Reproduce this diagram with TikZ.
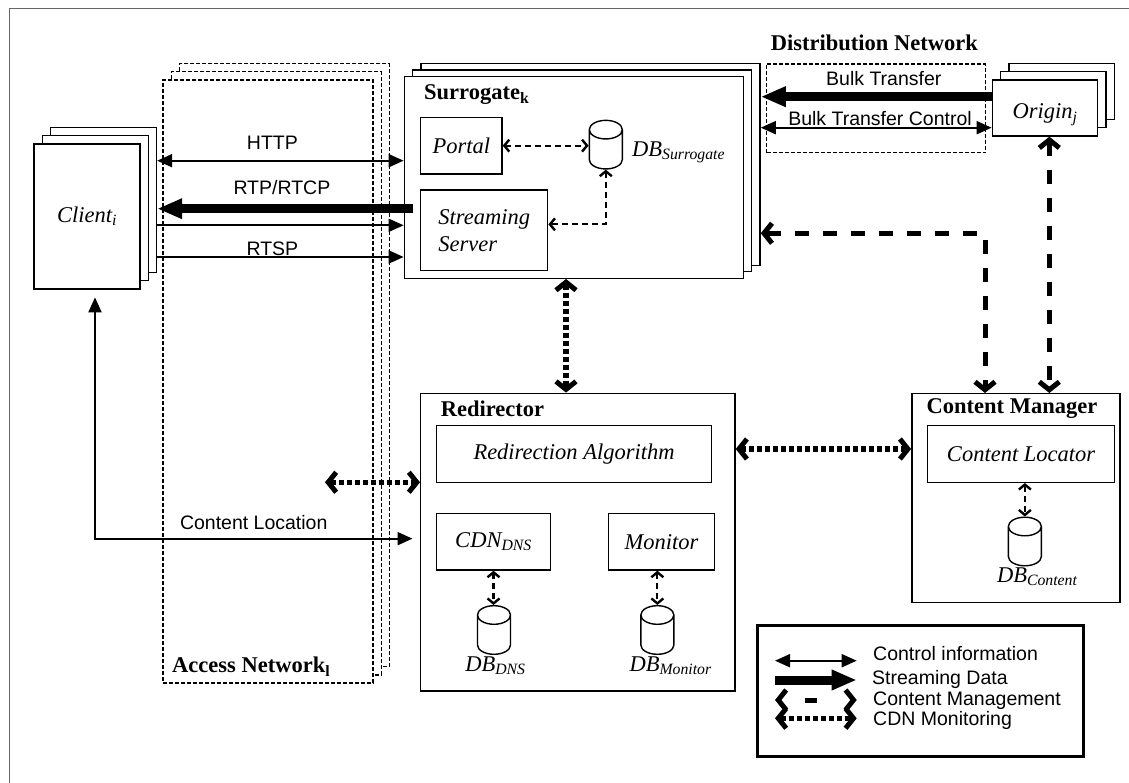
\documentclass[tikz,border=0pt]{standalone}
\usepackage{fontspec}
\setmainfont{Liberation Serif}
\setsansfont{Liberation Sans}
\usetikzlibrary{shapes.geometric, arrows.meta, calc, positioning}

\tikzset{
  box/.style={draw, fill=white, line width=1.4pt, inner sep=0pt},
  comp/.style={box, font=\itshape\fontsize{22.5}{27.3}\selectfont},
  netbox/.style={box, dash pattern=on 4pt off 2pt},
  db/.style={cylinder, shape border rotate=90, aspect=0.6, draw, fill=white, line width=1.4pt, inner sep=0pt, text width=31pt, minimum width=33pt, minimum height=48.6pt},
  title/.style={font=\bfseries\fontsize{22.5}{27}\selectfont, inner sep=0pt, anchor=base west},
  dblbl/.style={font=\itshape\fontsize{22.5}{27}\selectfont, inner sep=0pt, anchor=base west},
  lbl/.style={font=\sffamily\fontsize{19.5}{23}\selectfont, inner sep=0pt},
  ctrl/.style={line width=2pt, >={Triangle[length=15pt,width=13pt]}},
  stream/.style={line width=9pt, >={Triangle[length=25pt,width=19pt]}},
  cmgmt/.style={line width=5pt, dash pattern=on 14pt off 14pt, >={Straight Barb[length=8pt,width=20pt,line width=5pt]}},
  monitor/.style={line width=5.5pt, dash pattern=on 5pt off 3pt, >={Straight Barb[length=8pt,width=20pt,line width=5pt]}},
  intl/.style={line width=2.2pt, dash pattern=on 6pt off 4pt, >={Straight Barb[length=5pt,width=12pt,line width=2.4pt]}}
}

\begin{document}
\begin{tikzpicture}[x=1pt, y=-1pt, font=\fontsize{22.5}{27}\selectfont]
\useasboundingbox (0,0) rectangle (1129,783);
\draw[line width=1.3pt, black!60] (9.5,783) |- (1129,8.5);

% clients
\foreach \k in {2,1}
  \node[box, minimum width=106pt, minimum height=145pt] (client\k) at ($(87,216.5)+(\k*8.25,-\k*8.25)$) {};
\node[comp, minimum width=106pt, minimum height=145pt] (client) at (87,216.5) {Client\textsubscript{i}};

% access network
\foreach \k in {2,1}
  \node[netbox, minimum width=210pt, minimum height=603pt] (acc\k) at ($(268,381.5)+(\k*8.2,-\k*8.2)$) {};
\node[netbox, minimum width=210pt, minimum height=603pt] (acc) at (268,381.5) {};
\node[title] (acclbl) at (172,672.7) {Access Network\textsubscript{l}};

% surrogate
\foreach \k in {2,1}
  \node[box, minimum width=339pt, minimum height=201.6pt] (surr\k) at ($(573.8,177.5)+(\k*8.4,-\k*6.5)$) {};
\node[box, minimum width=339pt, minimum height=201.6pt] (surr) at (573.8,177.5) {};
\node[title] (surrlbl) at (424,100) {Surrogate\textsubscript{k}};
\node[comp, minimum width=81.3pt, minimum height=56.7pt] (portal) at (461.35,145.65) {Portal};
\node[comp, minimum width=127pt, minimum height=80.7pt, align=left] (strm) at (484.2,230.35) {Streaming\\Server};
\node[db] (dbsur) at (605.8,149.65) {};
\node[dblbl] (dbsurlbl) at (632,156.7) {DB\textsubscript{Surrogate}};

% origin and distribution network
\foreach \k in {2,1}
  \node[box, minimum width=105.4pt, minimum height=56pt] (orig\k) at ($(1045,108)+(\k*8.3,-\k*8.3)$) {};
\node[comp, minimum width=105.4pt, minimum height=56pt, text height=22pt, text depth=0pt] (orig) at (1045,108) {Origin\textsubscript{j}};
\node[netbox, fill=none, minimum width=219pt, minimum height=88.7pt] (dist) at (876.2,108.35) {};
\node[title] (distlbl) at (770.7,50.7) {Distribution Network};

% redirector
\node[box, minimum width=314.3pt, minimum height=297.7pt] (redir) at (577.85,542.15) {};
\node[title] (redirlbl) at (440.7,416) {Redirector};
\node[comp, minimum width=274.6pt, minimum height=56.6pt] (algo) at (574,454) {Redirection Algorithm};
\node[comp, minimum width=113.6pt, minimum height=56.7pt] (cdn) at (493.5,541.65) {CDN\textsubscript{DNS}};
\node[comp, minimum width=106pt, minimum height=56.3pt] (mon) at (661.4,541.85) {Monitor};
\node[db] (dbdns) at (494,635) {};
\node[db] (dbmon) at (657.35,635) {};
\node[dblbl] at ([xshift=-14pt,yshift=-21.7pt]dbdns.south west) {DB\textsubscript{DNS}};
\node[dblbl] at ([xshift=-13pt,yshift=-21.7pt]dbmon.south west) {DB\textsubscript{Monitor}};

% content manager
\node[box, minimum width=208.2pt, minimum height=208.6pt] (cm) at (1015.9,498) {};
\node[title] (cmlbl) at (926.5,413.3) {Content Manager};
\node[comp, minimum width=186.9pt, minimum height=56.6pt] (locator) at (1021.05,454) {Content Locator};
\node[db] (dbcon) at (1024.85,546.5) {};
\node[dblbl] at ([xshift=-13pt,yshift=-21pt]dbcon.south west) {DB\textsubscript{Content}};

% client <-> surrogate
\coordinate (http) at ([yshift=16.8pt]surr.west);
\draw[ctrl,<->] (client2.east |- http) -- (http) node[lbl, midway, above=10pt, xshift=-8pt] {HTTP};
\coordinate (rtp) at ([xshift=9pt,yshift=-31.2pt]surr.west);
\draw[stream,->] (rtp) -- (client2.east |- rtp) node[lbl, midway, above=9.7pt, xshift=-3pt] {RTP/RTCP};
\coordinate (rtcp) at ([yshift=-47.8pt]surr.west);
\draw[ctrl,->] (client2.east |- rtcp) -- (rtcp);
\coordinate (rtsp) at ([yshift=-79.5pt]surr.west);
\draw[ctrl,->] (client2.east |- rtsp) -- (rtsp) node[lbl, midway, above=0pt, xshift=-8pt] {RTSP};

% client <-> redirector
\coordinate (cloca) at ([xshift=-7.5pt,yshift=3.5pt]redir.west);
\draw[ctrl,<->] ([xshift=8pt,yshift=-7.7pt]client.south) |- (cloca) node[lbl, pos=0.75, above=8pt] {Content Location};
\coordinate (accmon) at (325,482.3);
\draw[monitor,<->] (accmon) -- (accmon -| redir.west);

% surrogate <-> redirector <-> content manager
\draw[monitor,<->] ([xshift=-7.8pt]surr.south) -- ([xshift=-7.8pt]surr.south |- redir.north);
\coordinate (rcm) at ([yshift=93.15pt]redir.east);
\draw[monitor,<->] (rcm) -- (rcm -| cm.west);

% content management
\coordinate (scm) at ([yshift=-68.8pt]surr2.east);
\draw[cmgmt,<->, rounded corners=3pt] (scm) -| ([xshift=-30.9pt]cm.north);
\draw[cmgmt,<->] ([xshift=4.3pt]orig.south) -- ([xshift=4.3pt]orig.south |- cm.north);

% bulk transfer
\coordinate (bulk) at ([yshift=11.3pt]orig.west);
\draw[stream,->] (bulk) -- (bulk -| surr2.east) node[lbl, midway, above=6.7pt, xshift=7.6pt] {Bulk Transfer};
\coordinate (bulkc) at ([yshift=-19.7pt]orig.west);
\draw[ctrl,<->] (bulkc -| surr2.east) -- (bulkc) node[lbl, midway, above=1pt, xshift=3.8pt] {Bulk Transfer Control};

% inner links
\draw[intl,<->] (portal.east) -- (portal.east -| dbsur.west);
\draw[intl,<->] (dbsur.south) |- ([yshift=6pt]strm.east);
\draw[intl,<->] (cdn.south) -- (cdn.south |- dbdns.north);
\draw[intl,<->] (dbmon.north |- mon.south) -- (dbmon.north);
\draw[intl,<->] (dbcon.north |- locator.south) -- (dbcon.north);

% legend
\node[draw, line width=3pt, minimum width=326pt, minimum height=131.7pt, inner sep=0pt] (legend) at (920.3,690.85) {};
\draw[ctrl,<->] (775,660.7) -- (856.7,660.7);
\node[lbl, anchor=base west] at (873,660) {Control information};
\draw[stream,->] (775,680) -- (856.7,680);
\node[lbl, anchor=base west] at (872,684.3) {Streaming Data};
\draw[cmgmt,<->, dash pattern=on 0pt off 24pt on 12pt off 60pt] (775,700) -- (856.7,700);
\node[lbl, anchor=base west] at (873,705) {Content Management};
\draw[monitor,<->] (775,718.3) -- (856.7,718.3);
\node[lbl, anchor=base west] at (873,725) {CDN Monitoring};
\end{tikzpicture}
\end{document}
